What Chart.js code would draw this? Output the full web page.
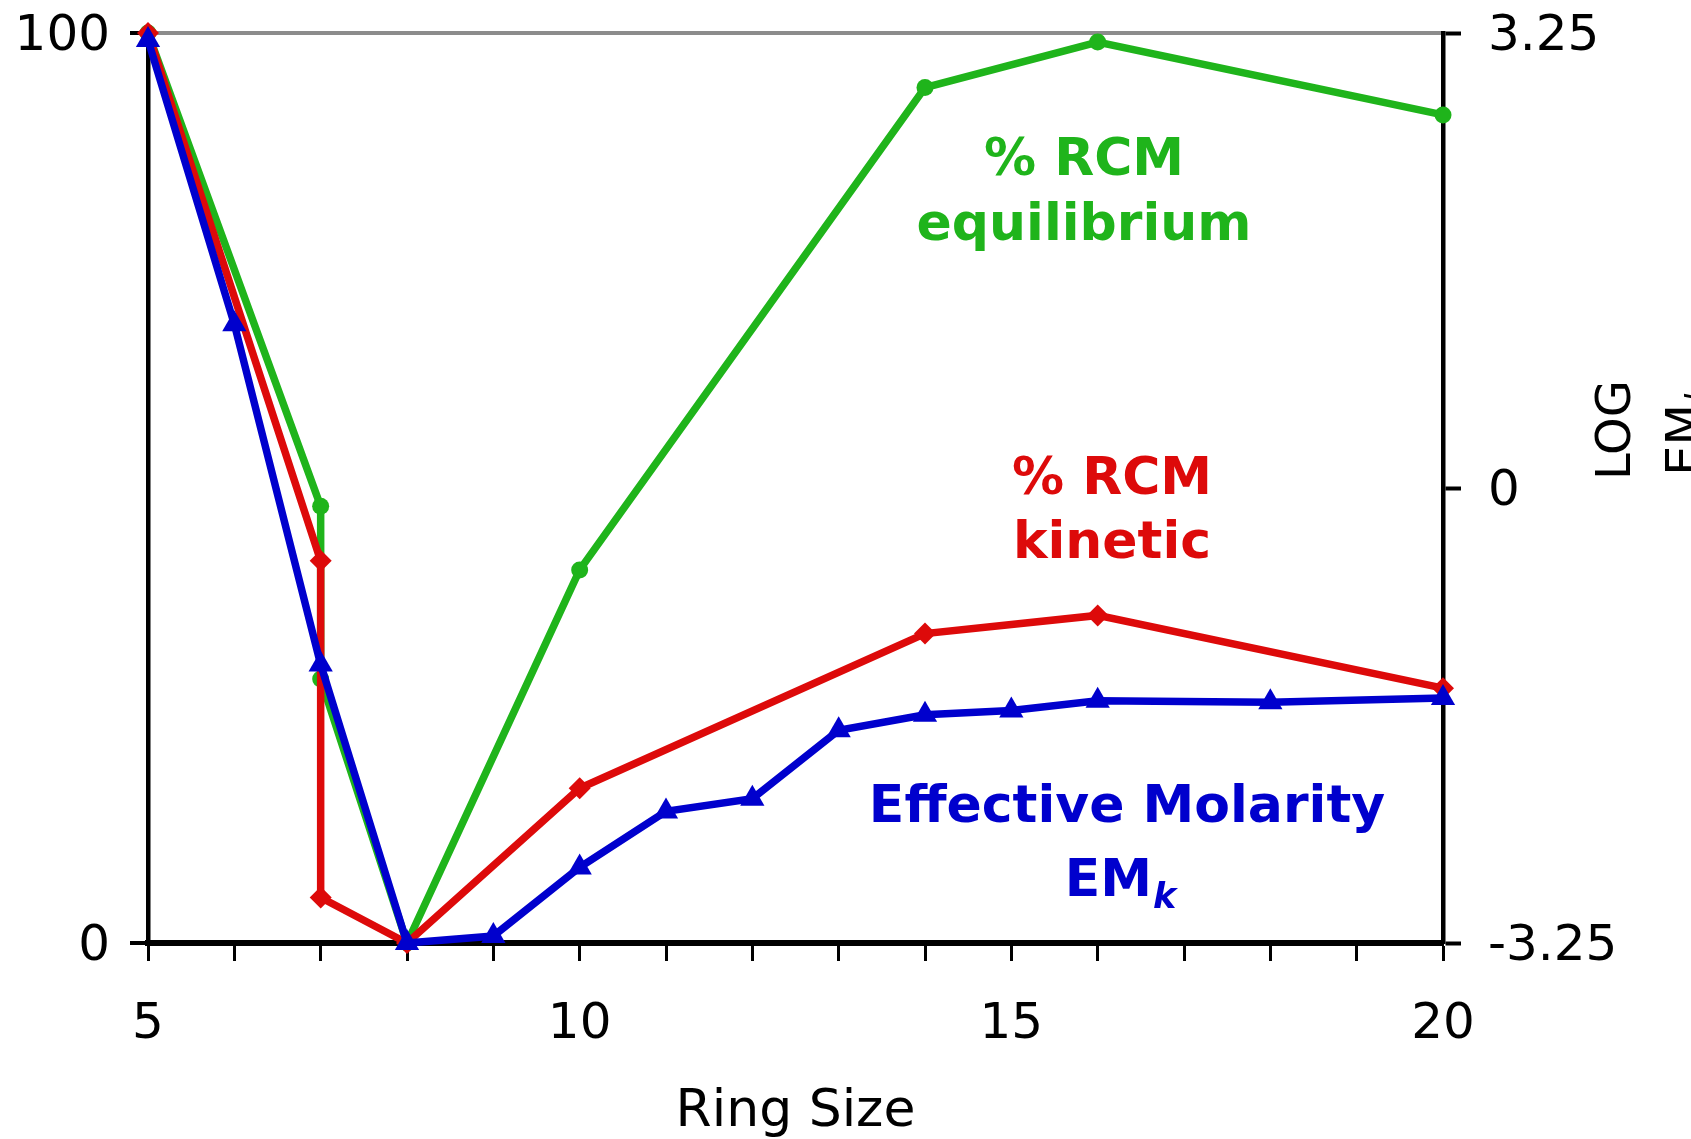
<!DOCTYPE html>
<html>
<head>
<meta charset="utf-8">
<script src="https://cdn.jsdelivr.net/npm/chart.js@4.4.1/dist/chart.umd.min.js"></script>
<style>
html, body { margin: 0; padding: 0; background: #fff; overflow: hidden; }
canvas { display: block; }
</style>
</head>
<body>
<canvas id="c" width="1691" height="1139"></canvas>
<script>
// ring size (x), % RCM on the left axis, log EM on the right axis
const ringEq = [5, 7, 7, 8, 10, 14, 16, 20];
const rcmEq  = [100, 48, 29, 0, 41, 94, 99, 91];

const ringKin = [5, 7, 7, 8, 10, 14, 16, 20];
const rcmKin  = [100, 42, 5, 0, 17, 34, 36, 28];

const ringEM = [5, 6, 7, 8, 9, 10, 11, 12, 13, 14, 15, 16, 18, 20];
const logEM  = [3.2, 1.17, -1.26, -3.25, -3.2, -2.71, -2.31, -2.22, -1.73, -1.62, -1.59, -1.52, -1.53, -1.5];

const xLabelled   = [5, 10, 15, 20];
const yLeftTicks  = [0, 100];
const yRightTicks = [-3.25, 0, 3.25];

const GREEN = '#1fb41b';
const RED   = '#dd0a0a';
const BLUE  = '#0000cd';
const FONT  = '"DejaVu Sans", Verdana, sans-serif';

const pts = (xs, ys) => xs.map((x, i) => ({ x, y: ys[i] }));

// text blocks inside the plot (pixel positions)
const notes = [
    { color: GREEN, x: 1084, lines: ['% RCM', 'equilibrium'], base: [175, 240] },
    { color: RED,   x: 1112, lines: ['% RCM', 'kinetic'],     base: [494, 558] },
    { color: BLUE,  x: 1127, lines: ['Effective Molarity'],   base: [822] },
];

function subText(ctx, main, sub, cx, base, mainFont, subFont, drop) {
    ctx.font = mainFont;
    const w1 = ctx.measureText(main).width;
    ctx.font = subFont;
    const w2 = ctx.measureText(sub).width;
    const x0 = cx - (w1 + w2) / 2;
    ctx.textAlign = 'left';
    ctx.font = mainFont;
    ctx.fillText(main, x0, base);
    ctx.font = subFont;
    ctx.fillText(sub, x0 + w1 + 1, base + drop);
}

const overlay = {
    id: 'overlay',
    afterDraw(chart) {
        const ctx = chart.ctx;
        ctx.save();
        ctx.textBaseline = 'alphabetic';
        ctx.textAlign = 'center';
        ctx.font = `bold 52px ${FONT}`;
        notes.forEach(n => {
            ctx.fillStyle = n.color;
            n.lines.forEach((t, i) => ctx.fillText(t, n.x, n.base[i]));
        });
        ctx.fillStyle = BLUE;
        subText(ctx, 'EM', 'k', 1120, 896, `bold 52px ${FONT}`, `italic bold 35px ${FONT}`, 12);

        // right axis title, reads bottom to top, second line runs off the edge
        ctx.fillStyle = '#000';
        ctx.translate(1630, 430);
        ctx.rotate(-Math.PI / 2);
        ctx.textAlign = 'center';
        ctx.font = `48px ${FONT}`;
        ctx.fillText('LOG', 0, 0);
        subText(ctx, 'EM', 'k', 0, 70, `48px ${FONT}`, `italic 34px ${FONT}`, 10);
        ctx.restore();
    }
};

// keep the plot box where the reference has it
const noPad = s => { s.paddingTop = 0; s.paddingBottom = 0; s.paddingLeft = 0; s.paddingRight = 0; };

new Chart(document.getElementById('c'), {
    type: 'scatter',
    data: {
        datasets: [
            {
                label: '% RCM equilibrium',
                data: pts(ringEq, rcmEq),
                yAxisID: 'y',
                showLine: true,
                borderColor: GREEN,
                backgroundColor: GREEN,
                borderWidth: 7.5,
                pointStyle: 'circle',
                pointRadius: 8.5,
                pointBorderWidth: 0,
                clip: false,
                order: 3
            },
            {
                label: '% RCM kinetic',
                data: pts(ringKin, rcmKin),
                yAxisID: 'y',
                showLine: true,
                borderColor: RED,
                backgroundColor: RED,
                borderWidth: 7.5,
                pointStyle: 'rectRot',
                pointRadius: 11,
                pointBorderWidth: 0,
                clip: false,
                order: 2
            },
            {
                label: 'Effective Molarity',
                data: pts(ringEM, logEM),
                yAxisID: 'y2',
                showLine: true,
                borderColor: BLUE,
                backgroundColor: BLUE,
                borderWidth: 7.5,
                pointStyle: 'triangle',
                pointRadius: 14,
                pointBorderWidth: 0,
                clip: false,
                order: 1
            }
        ]
    },
    options: {
        responsive: false,
        animation: false,
        devicePixelRatio: 1,
        layout: { padding: { top: 33, left: 0, right: 0, bottom: 0 } },
        plugins: { legend: { display: false }, tooltip: { enabled: false } },
        elements: { line: { tension: 0 } },
        scales: {
            x: {
                type: 'linear',
                min: 5,
                max: 20,
                afterFit: s => { noPad(s); s.height = 196; },
                afterBuildTicks: s => {
                    const t = [];
                    for (let v = 5; v <= 20; v++) t.push({ value: v });
                    s.ticks = t;
                },
                ticks: {
                    autoSkip: false,
                    maxRotation: 0,
                    padding: 34,
                    color: '#000',
                    font: { size: 50, family: FONT },
                    callback: v => xLabelled.includes(v) ? String(v) : ''
                },
                grid: { drawOnChartArea: false, tickLength: 18, tickWidth: 3, tickColor: '#000' },
                border: { color: '#000', width: 6 },
                title: {
                    display: true,
                    text: 'Ring Size',
                    color: '#000',
                    font: { size: 52, family: FONT, lineHeight: 1.0 },
                    padding: { top: 0, bottom: 1 }
                }
            },
            y: {
                position: 'left',
                min: 0,
                max: 100,
                afterFit: s => { noPad(s); s.width = 148; },
                afterBuildTicks: s => { s.ticks = yLeftTicks.map(v => ({ value: v })); },
                ticks: { padding: 20, labelOffset: 4, color: '#000', font: { size: 50, family: FONT } },
                grid: {
                    color: c => (c.tick && c.tick.value === 100) ? '#8c8c8c' : 'rgba(0,0,0,0)',
                    lineWidth: 4,
                    tickLength: 18,
                    tickWidth: 4,
                    tickColor: '#000'
                },
                border: { color: '#000', width: 4.5 }
            },
            y2: {
                position: 'right',
                min: -3.25,
                max: 3.25,
                afterFit: s => { noPad(s); s.width = 248; },
                afterBuildTicks: s => { s.ticks = yRightTicks.map(v => ({ value: v })); },
                ticks: {
                    padding: 27,
                    labelOffset: 4,
                    color: '#000',
                    font: { size: 50, family: FONT },
                    callback: v => String(v)
                },
                grid: { drawOnChartArea: false, tickLength: 18, tickWidth: 4, tickColor: '#000' },
                border: { color: '#000', width: 4.5 }
            }
        }
    },
    plugins: [overlay]
});
</script>
</body>
</html>
